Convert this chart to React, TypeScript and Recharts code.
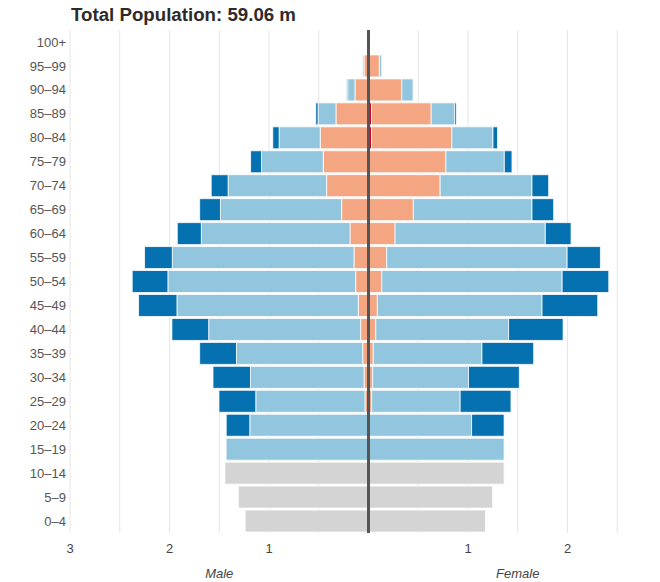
import React from 'react';
import { BarChart, Bar, XAxis, YAxis, CartesianGrid, ReferenceLine } from 'recharts';

const AGES = ['100+','95–99','90–94','85–89','80–84','75–79','70–74','65–69','60–64','55–59','50–54','45–49','40–44','35–39','30–34','25–29','20–24','15–19','10–14','5–9','0–4'];

const MALE_RED = [0,0,0,0.01,0.01,0.005,0,0,0,0,0,0,0,0,0,0,0,0,0,0,0];
const MALE_ORANGE = [0,0.045,0.136,0.317,0.475,0.45,0.421,0.27,0.186,0.146,0.129,0.103,0.079,0.058,0.045,0.035,0,0,0,0,0];
const MALE_LIGHT = [0,0.013,0.073,0.18,0.413,0.62,0.99,1.218,1.494,1.826,1.887,1.822,1.527,1.269,1.141,1.098,1.193,1.431,0,0,0];
const MALE_DARK = [0,0,0.01,0.023,0.064,0.11,0.17,0.209,0.242,0.279,0.359,0.386,0.37,0.37,0.377,0.37,0.237,0,0,0,0];
const MALE_GREY = [0,0,0,0,0,0,0,0,0,0,0,0,0,0,0,0,0,0,1.443,1.308,1.24];

const FEMALE_RED = [0,0,0,0.03,0.03,0.01,0,0,0,0,0,0,0,0,0,0,0,0,0,0,0];
const FEMALE_ORANGE = [0,0.109,0.334,0.6,0.808,0.767,0.72,0.451,0.267,0.183,0.133,0.089,0.073,0.048,0.042,0.032,0,0,0,0,0];
const FEMALE_LIGHT = [0,0.024,0.114,0.235,0.413,0.588,0.923,1.192,1.51,1.813,1.813,1.655,1.335,1.092,0.963,0.889,1.036,1.363,0,0,0];
const FEMALE_DARK = [0,0,0,0.017,0.046,0.077,0.168,0.218,0.259,0.335,0.469,0.56,0.548,0.52,0.511,0.511,0.327,0,0,0,0];
const FEMALE_GREY = [0,0,0,0,0,0,0,0,0,0,0,0,0,0,0,0,0,0,1.363,1.248,1.176];

const X_TICKS = [-3,-2.5,-2,-1.5,-1,-0.5,0,0.5,1,1.5,2,2.5,3];
const X_LABELED = [-3,-2,-1,1,2];
const SIDE_TICKS = [-1.5, 1.5];
const TITLE = 'Total Population: 59.06 m';

const data = AGES.map((age, i) => ({
  age,
  mRed: -MALE_RED[i],
  mOrange: -MALE_ORANGE[i],
  mLight: -MALE_LIGHT[i],
  mDark: -MALE_DARK[i],
  mGrey: -MALE_GREY[i],
  fRed: FEMALE_RED[i],
  fOrange: FEMALE_ORANGE[i],
  fLight: FEMALE_LIGHT[i],
  fDark: FEMALE_DARK[i],
  fGrey: FEMALE_GREY[i],
}));

const RED = '#ca0020';
const ORANGE = '#f4a582';
const LIGHT = '#92c5de';
const DARK = '#0571b0';
const GREY = '#d4d4d4';

const FONT = '"Liberation Sans", Arial, Helvetica, sans-serif';

const series: [string, string][] = [
  ['mRed', RED], ['mOrange', ORANGE], ['mLight', LIGHT], ['mDark', DARK], ['mGrey', GREY],
  ['fRed', RED], ['fOrange', ORANGE], ['fLight', LIGHT], ['fDark', DARK], ['fGrey', GREY],
];

export default function App() {
  return (
    <div style={{ position: 'fixed', left: 0, top: 0, width: 660, height: 582, overflow: 'hidden', background: '#fff', fontFamily: FONT }}>
      <div style={{ position: 'absolute', left: 71, top: 5, fontSize: 18.7, lineHeight: '20px', fontWeight: 'bold', color: '#2e2a2a', whiteSpace: 'nowrap' }}>
        {TITLE}
      </div>
      <BarChart
        width={670}
        height={582}
        data={data}
        layout="vertical"
        stackOffset="sign"
        barSize={22}
        margin={{ top: 30, right: 3, bottom: 0, left: 0 }}
        style={{ fontFamily: FONT }}
      >
        <CartesianGrid horizontal={false} stroke="#e6e6e6" strokeWidth={1} />
        <XAxis
          type="number"
          domain={[-3, 3]}
          ticks={X_TICKS}
          interval={0}
          allowDataOverflow
          axisLine={false}
          tickLine={false}
          tickSize={0}
          tickMargin={11}
          height={28}
          tick={{ fontSize: 13, fill: '#444' }}
          tickFormatter={(v: number) => (X_LABELED.includes(v) ? String(Math.abs(v)) : '')}
        />
        <XAxis
          xAxisId="side"
          type="number"
          domain={[-3, 3]}
          ticks={SIDE_TICKS}
          interval={0}
          allowDataOverflow
          axisLine={false}
          tickLine={false}
          tickSize={0}
          tickMargin={8}
          height={21}
          tick={{ fontSize: 13, fill: '#444', fontStyle: 'italic' }}
          tickFormatter={(v: number) => (v < 0 ? 'Male' : 'Female')}
        />
        <YAxis
          type="category"
          dataKey="age"
          width={70}
          axisLine={false}
          tickLine={false}
          tickSize={0}
          tickMargin={4}
          interval={0}
          tick={{ fontSize: 13, fill: '#555' }}
        />
        {series.map(([key, color]) => (
          <Bar key={key} dataKey={key} stackId="a" fill={color} stroke="#fff" strokeWidth={0.8} isAnimationActive={false} />
        ))}
        <ReferenceLine x={0} stroke="#555" strokeWidth={3} />
      </BarChart>
    </div>
  );
}
